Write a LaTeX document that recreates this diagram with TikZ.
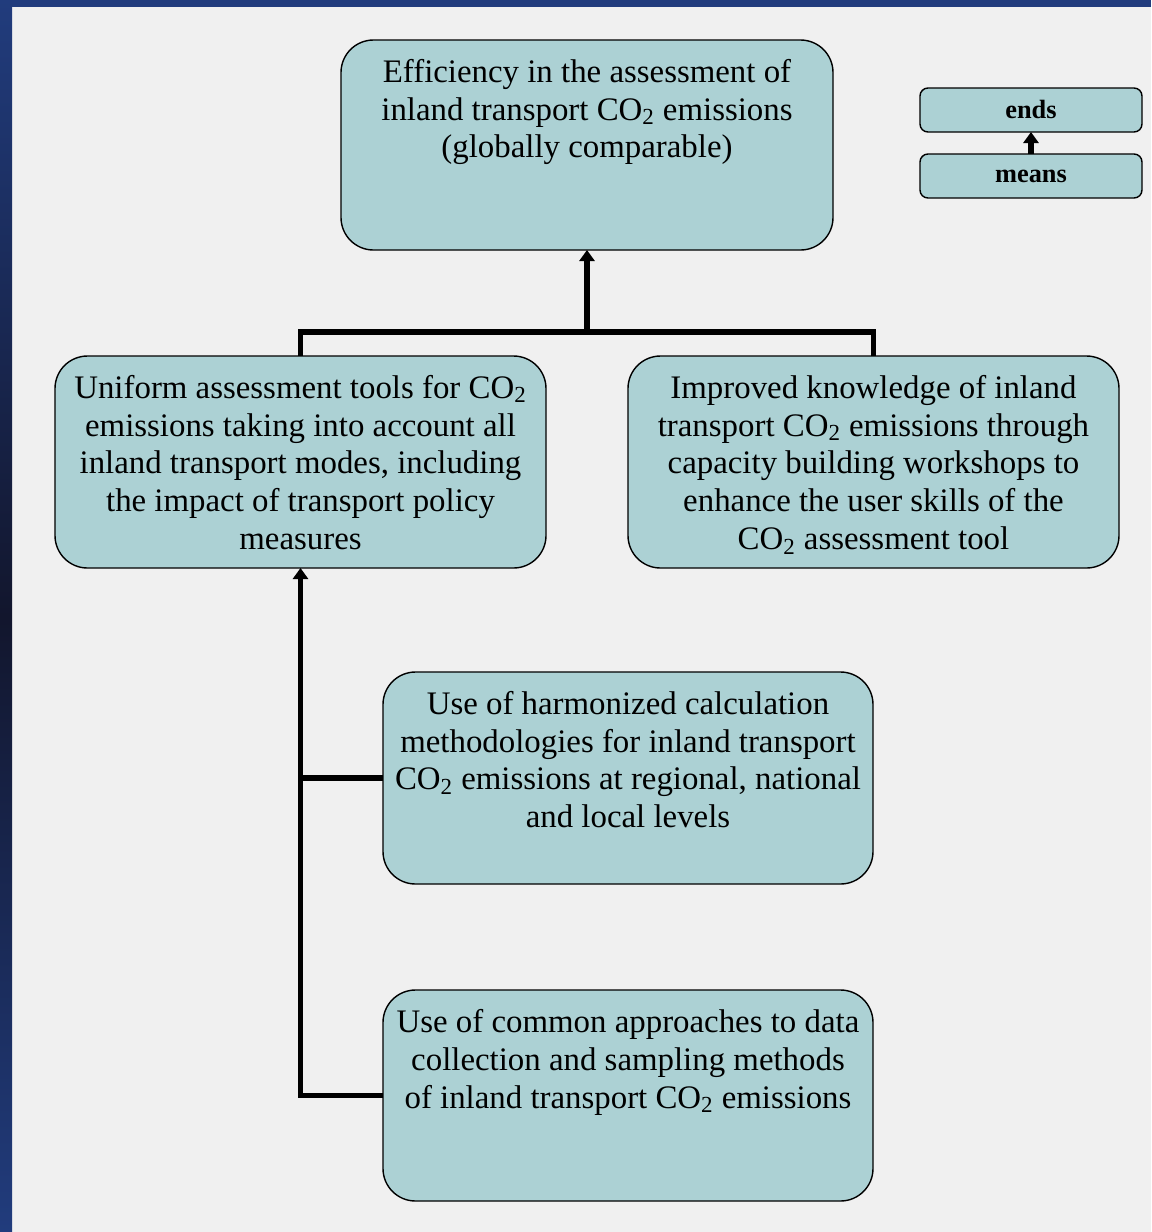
\documentclass[tikz,border=0pt]{standalone}
\usepackage{fontspec}
\setmainfont{Liberation Serif}
\usetikzlibrary{arrows.meta}
\definecolor{boxfill}{RGB}{172,209,212}
\definecolor{pagegray}{RGB}{240,240,240}
\definecolor{slideblue}{RGB}{33,60,125}
\definecolor{slidedark}{RGB}{18,22,45}
\newcommand{\inbox}[3]{\parbox[c][#2][t]{#1}{\centering\vspace*{0.31cm}\strut #3}}

\begin{document}
\begin{tikzpicture}[
    box/.style={draw=black, line width=0.8pt, fill=boxfill, rounded corners=0.65cm,
        inner sep=0pt, outer sep=0pt, font=\fontsize{18.7}{21.6}\selectfont},
    keybox/.style={draw=black, line width=0.8pt, fill=boxfill, rounded corners=0.16cm,
        minimum width=4.44cm, minimum height=0.88cm, inner sep=0pt, outer sep=0pt,
        font=\fontsize{15}{18}\selectfont\bfseries},
    link/.style={line width=2.9pt},
    uparrow/.style={-{Triangle[width=0.3cm,length=0.22cm]}}
]
    % page and slide edge
    \useasboundingbox (0,0) rectangle (23.02,-24.64);
    \fill[pagegray] (0,0) rectangle (23.02,-24.64);
    \fill[slideblue] (0,0) rectangle (23.02,-0.14);
    \shade[top color=slideblue, bottom color=slideblue, middle color=slidedark] (0,0) rectangle (0.24,-24.64);

    % ends
    \node[box] (goal) at (11.74,-2.90) {\inbox{9.84cm}{4.2cm}{Efficiency in the assessment of\\
        inland transport CO\textsubscript{2} emissions\\ (globally comparable)}};

    % key
    \node[keybox] (ends) at (20.62,-2.20) {\raisebox{1pt}{ends}};
    \node[keybox] (means) at (20.62,-3.52) {\raisebox{-1pt}{means}};

    % means
    \node[box] (uni) at (6.01,-9.24) {\inbox{9.82cm}{4.24cm}{Uniform assessment tools for CO\textsubscript{2}\\
        emissions taking into account all\\ inland transport modes, including\\
        the impact of transport policy\\ measures}};
    \node[box] (know) at (17.47,-9.24) {\inbox{9.82cm}{4.24cm}{Improved knowledge of inland\\
        transport CO\textsubscript{2} emissions through\\ capacity building workshops to\\
        enhance the user skills of the\\ CO\textsubscript{2} assessment tool}};
    \node[box] (calc) at (12.56,-15.56) {\inbox{9.80cm}{4.24cm}{Use of harmonized calculation\\
        methodologies for inland transport\\ CO\textsubscript{2} emissions at regional, national\\
        and local levels}};
    \node[box] (data) at (12.56,-21.91) {\inbox{9.80cm}{4.22cm}{Use of common approaches to data\\
        collection and sampling methods\\ of inland transport CO\textsubscript{2} emissions}};

    % connectors
    \coordinate (join) at ([yshift=-1.64cm]goal.south);
    \draw[link] (uni.north) |- (join) -| (know.north);
    \draw[link,uparrow] (join) -- (goal.south);
    \draw[link,uparrow] (data.west) -| (uni.south);
    \draw[link] (calc.west) -- (calc.west -| uni.south);
    \draw[link,uparrow] (means) -- (ends);
\end{tikzpicture}
\end{document}
